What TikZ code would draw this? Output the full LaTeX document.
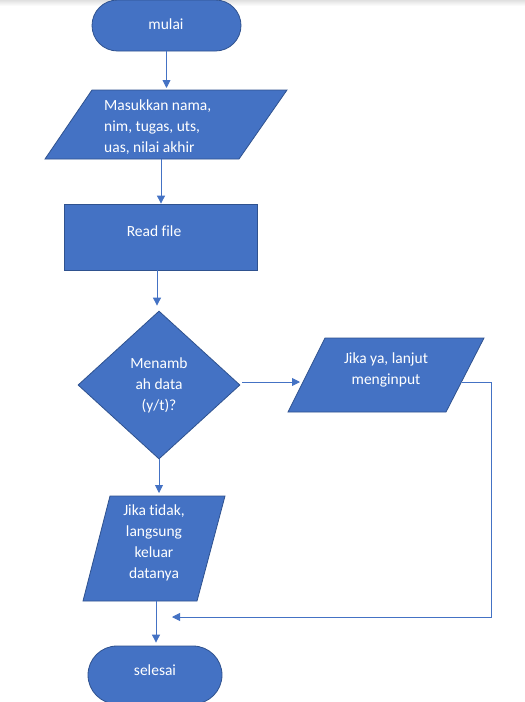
\documentclass[tikz,border=0pt]{standalone}
\usepackage{fontspec}
\setmainfont[Ligatures={NoCommon}]{Carlito}
\usetikzlibrary{arrows.meta,shapes.geometric,calc}
\definecolor{flowfill}{HTML}{4472C4}
\definecolor{flowedge}{HTML}{2F528F}
\definecolor{flowline}{HTML}{4472C4}

\begin{document}
\begin{tikzpicture}[x=1pt,y=-1pt,
  shapefill/.style={fill=flowfill,draw=flowedge,line width=0.8pt,inner sep=0pt},
  ghost/.style={inner sep=0pt,outer sep=0pt},
  lbl/.style={text=white,font=\fontsize{15.5}{21}\selectfont,inner sep=0pt,align=center},
  arr/.style={draw=flowline,line width=0.9pt,-{Triangle[length=8pt,width=8pt]}}]

\useasboundingbox (0,0) rectangle (525,702);
\clip (0,0) rectangle (525,702);
\fill[white] (0,0) rectangle (525,702);
\shade[top color=black!12,bottom color=white] (0,0) rectangle (525,6);

% start terminator
\node[shapefill,rounded corners=25.5pt,minimum width=149pt,minimum height=51pt] (m) at (166.5,25.5) {};

% input parallelogram
\node[ghost,minimum width=242pt,minimum height=69pt] (p1) at (166,124.5) {};
\path[shapefill] ($(p1.north west)+(47,0)$) -- (p1.north east) -- ($(p1.south east)+(-48,0)$) -- (p1.south west) -- cycle;

% process box
\node[shapefill,minimum width=193pt,minimum height=66pt] (r) at (160.5,237) {};

% decision
\node[shapefill,diamond,minimum width=162pt,minimum height=148pt] (d) at (159,385) {};

% "yes" branch parallelogram
\node[ghost,minimum width=196pt,minimum height=74pt] (p2) at (386,375) {};
\path[shapefill] ($(p2.north west)+(37,0)$) -- (p2.north east) -- ($(p2.south east)+(-38,0)$) -- (p2.south west) -- cycle;

% "no" branch parallelogram
\node[ghost,minimum width=142pt,minimum height=105pt] (p3) at (154,548.5) {};
\path[shapefill] ($(p3.north west)+(27,0)$) -- (p3.north east) -- ($(p3.south east)+(-28,0)$) -- (p3.south west) -- cycle;

% end terminator
\node[shapefill,rounded corners=29pt,minimum width=134pt,minimum height=58pt] (s) at (155,675) {};

% labels
\node[lbl] (tm) at (166,24) {mulai};
\node[lbl,align=left,anchor=west] (t1) at (104,127) {Masukkan nama,\\nim, tugas, uts,\\uas, nilai akhir};
\node[lbl] (tr) at (154,231) {Read file};
\node[lbl] (td) at (159,385) {Menamb\\ah data\\(y/t)?};
\node[lbl] (t2) at (386,370) {Jika ya, lanjut\\menginput};
\node[lbl] (t3) at (154,543) {Jika tidak,\\langsung\\keluar\\datanya};
\node[lbl] (ts) at (155,670) {selesai};

% connectors
\draw[arr,shorten >=2pt] (m.south) -- (m.south |- p1.north);

\coordinate (p1out) at ($(p1.south)+(-5,0)$);
\draw[arr] (p1out) -- (p1out |- r.north);

\coordinate (rout) at ($(r.south)+(-3.5,0)$);
\draw[arr,shorten >=5pt] (rout) -- (rout |- d.north);

\coordinate (dout) at ($(d.east)+(2,-3)$);
\coordinate (p2in) at ($(p2.west)+(12,7)$);
\draw[arr] (dout) -- (p2in);

\coordinate (p2out) at ($(p2.east)+(-22,7)$);
\coordinate (loopR) at (491,382);
\coordinate (loopB) at (491,617);
\coordinate (merge) at (172,617);
\draw[arr] (p2out) -- (loopR) -- (loopB) -- (merge);

\draw[arr,shorten >=3pt] (d.south) -- (d.south |- p3.north);

\coordinate (p3out) at ($(p3.south)+(2,0)$);
\draw[arr,shorten >=3pt] (p3out) -- (p3out |- s.north);

\end{tikzpicture}
\end{document}
